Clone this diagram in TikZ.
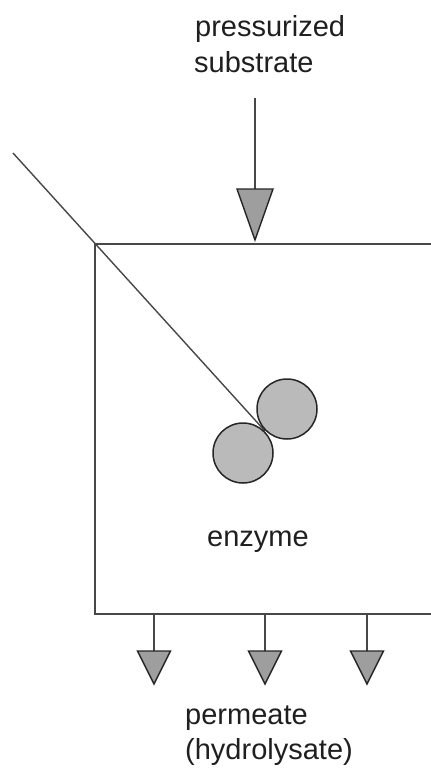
\documentclass[tikz,border=0pt]{standalone}
\usepackage{fontspec}
\setmainfont{Liberation Sans}
\usetikzlibrary{calc}
\begin{document}
\begin{tikzpicture}[x=1pt,y=-1pt,
  lbl/.style={inner sep=0pt,anchor=base west,font=\fontsize{29}{36}\selectfont,text=black!88},
  wall/.style={draw=black!72,line width=1.8pt},
  pipe/.style={draw=black!72,line width=1.4pt},
  tri/.style={draw=black!85,line width=1.4pt,fill=black!38,line join=miter},
  ball/.style={draw=black!85,line width=1.5pt,fill=black!27}]
\useasboundingbox (0,0) rectangle (431,772);
\clip (0,0) rectangle (431,772);
% labels
\node[lbl] (t1) at (195,36.5) {pressurized};
\node[lbl] (t2) at (194,72.7) {substrate};
\node[lbl] (enz) at (207,546) {enzyme};
\node[lbl] (p1) at (185,724) {permeate};
\node[lbl] (p2) at (185,759) {(hydrolysate)};
% reactor box (right edge beyond frame)
\coordinate (bl) at (95,614);
\coordinate (tr) at (450,244);
\draw[wall] (bl) rectangle (tr);
% diagonal line to enzyme
\coordinate (d0) at (13,153);
\coordinate (c1) at (287,409);
\coordinate (c2) at (243,453);
\coordinate (touch) at ($(c1)!0.5!(c2)$);
\draw[pipe] (d0) -- (touch);
\draw[ball] (c1) circle[radius=30];
\draw[ball] (c2) circle[radius=30];
% feed arrow
\coordinate (f0) at (255,98);
\coordinate (f1) at (255,189);
\draw[pipe] (f0) -- (f1);
\draw[tri] (237,189) -- (273,189) -- (255,240) -- cycle;
% permeate arrows
\foreach \px/\nm in {154/a,265/b,367/c}{
  \coordinate (o\nm) at (\px,614);
  \coordinate (e\nm) at (\px,651);
  \draw[pipe] (o\nm) -- (e\nm);
  \draw[tri] ($(e\nm)+(-16.5,0)$) -- ($(e\nm)+(16.5,0)$) -- ($(e\nm)+(0,33)$) -- cycle;
}
\end{tikzpicture}
\end{document}
